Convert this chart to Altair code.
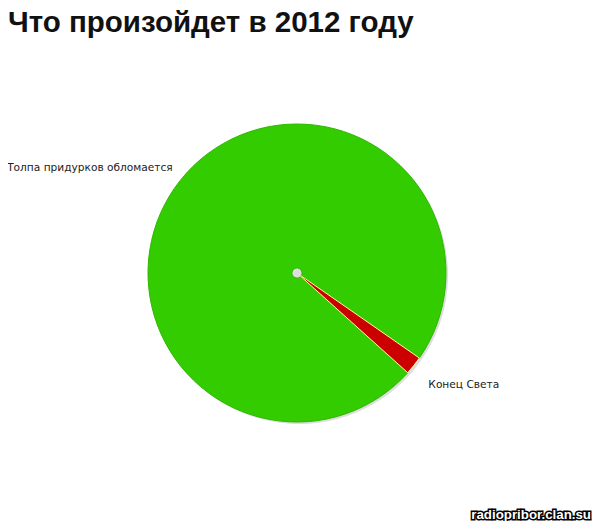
import math
import altair as alt
import pandas as pd

# Data
categories = ["Толпа придурков обломается", "Конец Света"]
values = [98, 2]
stack_order = [1, 0]
fill_colors = ["#33cc00", "#cc0000"]
edge_colors = ["#2fb800", "#ffff99"]
title_text = "Что произойдет в 2012 году"
watermark = "radiopribor.clan.su"

df = pd.DataFrame({"category": categories, "value": values, "order": stack_order})

start = math.radians(124.8)
theta_scale = alt.Scale(domain=[0, 100], range=[start, start + 2 * math.pi])

CX, CY = 289, 220
R = 149

base = alt.Chart(df).transform_window(
    cum="sum(value)", sort=[alt.SortField("order")]
).transform_calculate(
    t0="datum.cum - datum.value",
    tm="datum.cum - datum.value / 2",
)

theta_enc = dict(
    theta=alt.Theta("t0:Q", scale=theta_scale),
    theta2="cum:Q",
)

shadow = base.mark_arc(radius=R, innerRadius=0, color="#dddddd").encode(
    x=alt.value(CX + 2), y=alt.value(CY + 2), **theta_enc
)

pie = base.mark_arc(radius=R, innerRadius=5, strokeWidth=1).encode(
    x=alt.value(CX),
    y=alt.value(CY),
    color=alt.Color("category:N", scale=alt.Scale(domain=categories, range=fill_colors), legend=None),
    stroke=alt.Stroke("category:N", scale=alt.Scale(domain=categories, range=edge_colors), legend=None),
    **theta_enc,
)

label_common = dict(font="DejaVu Sans", fontSize=10.6, color="#222", baseline="middle")

label_red = base.transform_filter(alt.datum.category == categories[1]).mark_text(
    align="left", dx=-5, dy=4, **label_common
).encode(
    x=alt.value(CX), y=alt.value(CY),
    theta=alt.Theta("tm:Q", scale=theta_scale),
    radius=alt.value(174),
    text="category:N",
)

label_green = base.transform_filter(alt.datum.category == categories[0]).mark_text(
    align="right", dx=12, dy=3, **label_common
).encode(
    x=alt.value(CX), y=alt.value(CY),
    theta=alt.Theta("tm:Q", scale=theta_scale),
    radius=alt.value(174),
    text="category:N",
)

wm_df = pd.DataFrame({"t": [watermark]})
wm_back = alt.Chart(wm_df).mark_text(
    align="right", baseline="alphabetic", font="Liberation Sans", fontSize=13.3,
    fontWeight="bold", stroke="#000000", strokeWidth=3, color="#000000",
).encode(x=alt.value(583), y=alt.value(466), text="t:N")
wm_front = alt.Chart(wm_df).mark_text(
    align="right", baseline="alphabetic", font="Liberation Sans", fontSize=13.3,
    fontWeight="bold", color="#ffffff",
).encode(x=alt.value(583), y=alt.value(466), text="t:N")

chart = alt.layer(shadow, pie, label_red, label_green, wm_back, wm_front).properties(
    width=584,
    height=468,
    padding={"left": 0, "top": 45, "right": 0, "bottom": 0},
    autosize="none",
    background="#ffffff",
    title=alt.Title(
        title_text, anchor="start", frame="group", font="Liberation Sans", fontSize=29.5,
        fontWeight="bold", color="#111111", offset=15,
    ),
).configure_view(stroke=None)

chart.save("out.html", embed_options={"renderer": "svg", "actions": False})
